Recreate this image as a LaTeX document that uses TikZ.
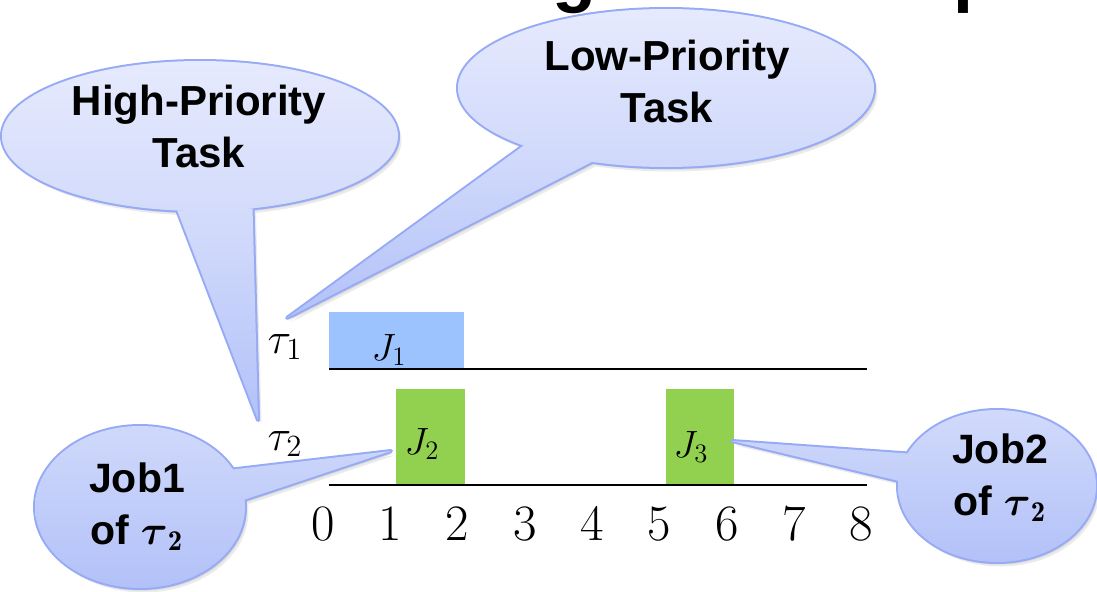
\RequirePackage{fix-cm}
\documentclass[tikz,border=0pt]{standalone}
\usepackage{amsmath}
\usepackage{fontspec}
\newfontfamily\calloutfont{Liberation Sans}
\usetikzlibrary{shapes.geometric}

\definecolor{bubtop}{RGB}{230,234,253}
\definecolor{bubmid}{RGB}{208,217,251}
\definecolor{bubbot}{RGB}{178,193,248}
\definecolor{bubedge}{RGB}{150,170,245}
\definecolor{jobblue}{RGB}{157,195,255}
\definecolor{jobgreen}{RGB}{146,208,80}

\tikzset{
  bubshape/.style={ellipse, inner sep=0pt, outer sep=0pt},
  bubline/.style={draw=bubedge, line width=2pt, line join=round},
  bubtext/.style={font=\calloutfont\bfseries\fontsize{21}{26}\selectfont, align=center, inner sep=0pt},
  jobtext/.style={bubtext, font=\calloutfont\bfseries\fontsize{20.5}{26}\selectfont},
  jobbox/.style={anchor=south west, inner sep=0pt, outer sep=0pt},
  axisline/.style={line width=1.45pt, black},
  joblabel/.style={anchor=base, inner sep=0pt, font=\fontsize{19}{21}\selectfont},
  tasklabel/.style={anchor=base, inner sep=0pt, font=\fontsize{22}{24}\selectfont},
  ticklabel/.style={anchor=base, inner sep=0pt, font=\fontsize{25.5}{28}\selectfont},
  titletext/.style={anchor=base west, inner sep=0pt, font=\calloutfont\bfseries\fontsize{36}{40}\selectfont},
}

% Speech bubble: #1 ellipse node, #2/#3 radii, #4/#5 border angles of the
% wedge base, #6 wedge tip, #7/#8 top and bottom of the colour gradient
\newcommand\speechbubble[8]{%
  \foreach \dx/\dy/\shc in {3.5/-4.5/black!8, 2/-2.5/black!16}{%
    \fill[fill=\shc] ([shift={(\dx,\dy)}]#1.center) ellipse [x radius=#2, y radius=#3];
    \fill[fill=\shc] ([shift={(\dx,\dy)}]#1.#4) -- ([shift={(\dx,\dy)}]#6) -- ([shift={(\dx,\dy)}]#1.#5) -- cycle;
  }%
  \draw[bubline] (#1.center) ellipse [x radius=#2, y radius=#3];
  \draw[bubline] (#1.#4) -- (#6) -- (#1.#5);
  \path[path picture={\shade[top color=bubtop, bottom color=bubbot, middle color=bubmid] (0,#7) rectangle (1097,#8);}]
    (#1.center) ellipse [x radius=#2, y radius=#3];
  \path[path picture={\shade[top color=bubtop, bottom color=bubbot, middle color=bubmid] (0,#7) rectangle (1097,#8);}]
    (#1.#4) -- (#6) -- (#1.#5) -- cycle;
}

\begin{document}
\begin{tikzpicture}[x=0.5pt, y=0.5pt]
\useasboundingbox (0,0) rectangle (1097,591);

% heading, cut off by the top edge
\begin{scope}
  \clip (0,0) rectangle (1097,591);
  \node[titletext] (tg) at (552,593) {g};
  \node[titletext] (tp) at (953,593) {p};
\end{scope}

% executed jobs
\node[jobbox, fill=jobblue, minimum width=67.5pt, minimum height=28.5pt] (j1box) at (329,222) {};
\node[jobbox, fill=jobgreen, minimum width=34.5pt, minimum height=48pt] (j2box) at (396,106) {};
\node[jobbox, fill=jobgreen, minimum width=34pt, minimum height=48pt] (j3box) at (666,106) {};

% time lines of the two tasks
\coordinate (l1s) at (329,222);
\coordinate (l1e) at (867,222);
\coordinate (l2s) at (329,106);
\coordinate (l2e) at (867,106);
\draw[axisline] (l1s) -- (l1e);
\draw[axisline] (l2s) -- (l2e);

% labels
\node[tasklabel] (tau1) at (285,238) {$\tau_1$};
\node[tasklabel] (tau2) at (285,141) {$\tau_2$};
\node[joblabel] (j1) at (389,231) {$J_1$};
\node[joblabel] (j2) at (422,137) {$J_2$};
\node[joblabel] (j3) at (691,134) {$J_3$};
\foreach \t in {0,...,8}
  \node[ticklabel] (n\t) at ({323+67.3*\t},51) {\t};

% callouts
\node[bubshape, minimum width=198pt, minimum height=75pt] (hp) at (200,455) {};
\coordinate (hptip) at (258,171);
\speechbubble{hp}{198}{75}{253}{306}{hptip}{531}{171}
\node[bubtext] (hptext) at (199,465) {High-Priority\\Task};

\node[bubshape, minimum width=208pt, minimum height=79pt] (lp) at (666,503) {};
\coordinate (lptip) at (287,273);
\speechbubble{lp}{208}{79}{202}{225}{lptip}{583}{273}
\node[bubtext] (lptext) at (667,509.5) {Low-Priority\\Task};

\node[bubshape, minimum width=105pt, minimum height=81pt] (jb1) at (140,84) {};
\coordinate (jb1tip) at (391,140);
\speechbubble{jb1}{105}{81}{22}{4}{jb1tip}{330}{3}
\node[jobtext] (jb1text) at (137,84) {Job1\\of $\boldsymbol{\tau}_{\mathbf{2}}$};

\node[bubshape, minimum width=99pt, minimum height=76pt] (jb2) at (997,105) {};
\coordinate (jb2tip) at (732,150);
\speechbubble{jb2}{99}{76}{160}{177}{jb2tip}{320}{29}
\node[jobtext] (jb2text) at (1000,113) {Job2\\of $\boldsymbol{\tau}_{\mathbf{2}}$};
\end{tikzpicture}
\end{document}
